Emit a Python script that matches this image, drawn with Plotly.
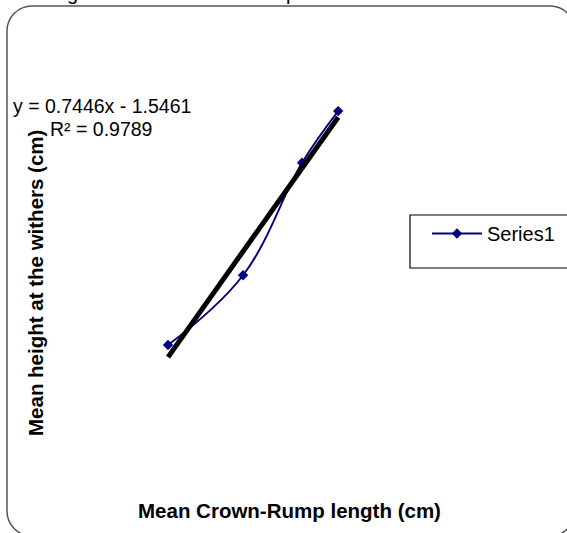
import numpy as np
import plotly.graph_objects as go

W, H = 567, 533

# ---- data ----
crown_rump = [30.0, 52.0, 69.3, 79.9]          # Mean Crown-Rump length (cm)
withers_height = [22.7, 33.5, 50.9, 58.9]      # Mean height at the withers (cm)
series_name = "Series1"
eq_text = "y = 0.7446x - 1.5461"
r2_text = "R² = 0.9789"
x_title = "Mean Crown-Rump length (cm)"
y_title = "Mean height at the withers (cm)"
# letters of a title that is cut off at the top edge of the picture
title_fragments = ["g", "p"]

# linear trendline from the data
slope, intercept = np.polyfit(crown_rump, withers_height, 1)
tx = [min(crown_rump), max(crown_rump)]
ty = [slope * v + intercept for v in tx]

FONT = "Arial, 'Liberation Sans', sans-serif"


def px(x):
    return x / W


def py(y):
    return 1 - y / H


fig = go.Figure()
fig.add_trace(go.Scatter(
    x=crown_rump, y=withers_height, name=series_name,
    mode="lines+markers",
    line=dict(color="#000080", width=1.9, shape="spline", smoothing=1.1),
    marker=dict(symbol="diamond", size=8, color="#000080"),
))
fig.add_trace(go.Scatter(
    x=tx, y=ty, mode="lines", showlegend=False, hoverinfo="skip",
    line=dict(color="black", width=5),
))

# rounded chart border
x0, y0, x1, y1, r = 7, 6, 575, 536, 25
k = 0.5523 * r
pts = [
    f"M{px(x0 + r)},{py(y0)}",
    f"L{px(x1 - r)},{py(y0)}",
    f"C{px(x1 - r + k)},{py(y0)} {px(x1)},{py(y0 + r - k)} {px(x1)},{py(y0 + r)}",
    f"L{px(x1)},{py(y1 - r)}",
    f"C{px(x1)},{py(y1 - r + k)} {px(x1 - r + k)},{py(y1)} {px(x1 - r)},{py(y1)}",
    f"L{px(x0 + r)},{py(y1)}",
    f"C{px(x0 + r - k)},{py(y1)} {px(x0)},{py(y1 - r + k)} {px(x0)},{py(y1 - r)}",
    f"L{px(x0)},{py(y0 + r)}",
    f"C{px(x0)},{py(y0 + r - k)} {px(x0 + r - k)},{py(y0)} {px(x0 + r)},{py(y0)}",
    "Z",
]
shapes = [
    dict(type="path", xref="paper", yref="paper", path=" ".join(pts),
         line=dict(color="#555555", width=1.5), layer="below"),
    dict(type="rect", xref="paper", yref="paper",
         x0=px(410), x1=px(585), y0=py(268), y1=py(215),
         line=dict(color="black", width=1.2), layer="below"),
]

annotations = [
    dict(text=eq_text, x=px(102), y=py(106), xref="paper", yref="paper",
         showarrow=False, xanchor="center", yanchor="middle",
         font=dict(family=FONT, size=19.5, color="black")),
    dict(text=r2_text, x=px(101), y=py(129), xref="paper", yref="paper",
         showarrow=False, xanchor="center", yanchor="middle",
         font=dict(family=FONT, size=19.5, color="black")),
    dict(text=f"<b>{x_title}</b>", x=px(289), y=py(510), xref="paper", yref="paper",
         showarrow=False, xanchor="center", yanchor="middle",
         font=dict(family=FONT, size=20.5, color="black")),
    dict(text=f"<b>{y_title}</b>", x=px(35), y=py(283), xref="paper", yref="paper",
         showarrow=False, xanchor="center", yanchor="middle", textangle=-90,
         font=dict(family=FONT, size=20.5, color="black")),
]
for frag, fx in zip(title_fragments, [72, 291]):
    annotations.append(dict(
        text=frag, x=px(fx), y=py(6), xref="paper", yref="paper",
        showarrow=False, xanchor="center", yanchor="bottom",
        font=dict(family=FONT, size=20, color="black")))

fig.update_layout(
    width=W, height=H,
    margin=dict(l=0, r=0, t=0, b=0),
    paper_bgcolor="white", plot_bgcolor="white",
    xaxis=dict(range=[-19.27, 147.0], visible=False, domain=[0, 1]),
    yaxis=dict(range=[-6.4, 76.1], visible=False, domain=[0, 1]),
    showlegend=True,
    legend=dict(x=px(427), y=py(214), xanchor="left", yanchor="top",
                bgcolor="rgba(0,0,0,0)", borderwidth=0, itemwidth=50,
                font=dict(family=FONT, size=20, color="black")),
    shapes=shapes,
    annotations=annotations,
    font=dict(family=FONT),
)

fig.write_html("out.html", config={"displayModeBar": False},
               post_script="document.body.style.margin='0';")
